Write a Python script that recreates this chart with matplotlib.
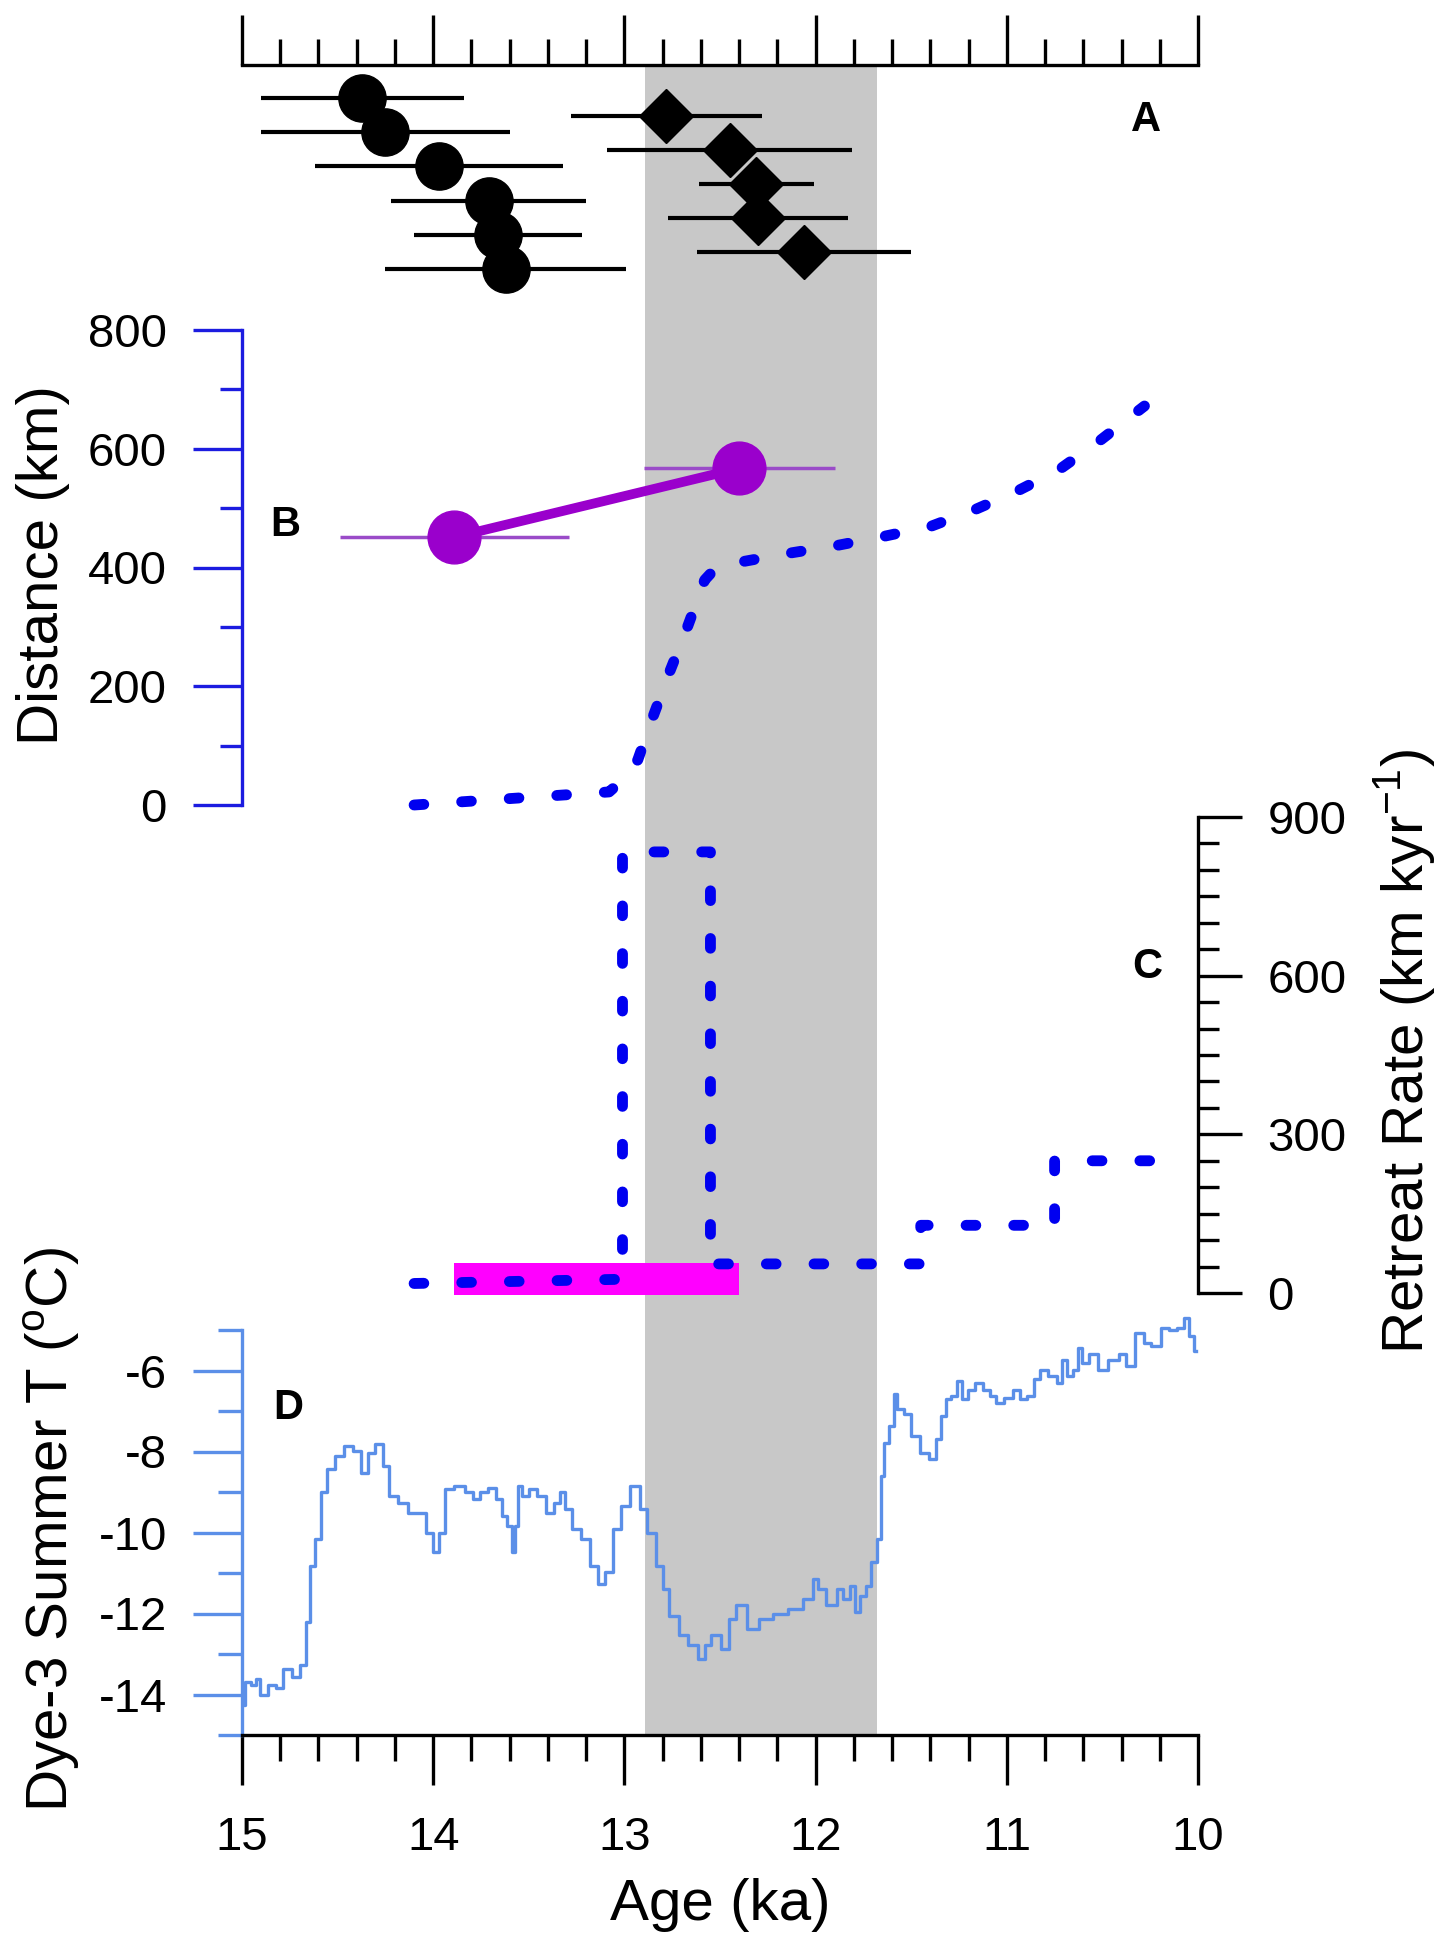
import numpy as np
import matplotlib.pyplot as plt
from matplotlib.ticker import MultipleLocator

plt.rcParams['font.family'] = ['Liberation Sans', 'DejaVu Sans']
plt.rcParams['axes.unicode_minus'] = False

# A: dated samples (age in ka, 1 sigma), stacked rows
circle_age = [14.37, 14.25, 13.97, 13.71, 13.66, 13.62]
circle_err = [0.53, 0.65, 0.65, 0.51, 0.44, 0.63]
circle_row = [0, 1, 2, 3, 4, 5]
diamond_age = [12.78, 12.45, 12.31, 12.30, 12.06]
diamond_err = [0.50, 0.64, 0.30, 0.47, 0.56]
diamond_row = [0.53, 1.53, 2.53, 3.52, 4.52]

# B: distance (km)
moraine_age = [13.89, 12.40]
moraine_err = [0.60, 0.50]
moraine_dist = [451, 567]
model_age = [14.10, 13.08, 13.00, 12.93, 12.85, 12.76, 12.67, 12.58, 12.52, 12.38,
             12.14, 11.89, 11.65, 11.40, 11.17, 10.95, 10.73, 10.52, 10.28]
model_dist = [0, 22, 45, 76, 149, 227, 300, 379, 400, 410,
              424, 437, 452, 469, 497, 528, 564, 612, 672]

# C: retreat rate (km/kyr)
rate_age = [14.10, 13.01, 13.01, 12.55, 12.55, 11.45, 11.45, 10.75, 10.75, 10.20]
rate_val = [18, 26, 834, 834, 55, 55, 128, 128, 250, 250]
obs_rate_age = [13.89, 12.40]
obs_rate_lo, obs_rate_hi = -4, 56

# D: Dye-3 summer temperature
dye3_age = [14.99, 14.98, 14.93, 14.92, 14.89, 14.84, 14.80, 14.77, 14.71, 14.68,
            14.65, 14.64, 14.60, 14.57, 14.54, 14.49, 14.44, 14.40, 14.35, 14.33,
            14.28, 14.25, 14.21, 14.16, 14.10, 14.06, 14.02, 13.98, 13.96, 13.92,
            13.86, 13.81, 13.77, 13.74, 13.69, 13.65, 13.63, 13.60, 13.58, 13.56,
            13.55, 13.52, 13.48, 13.43, 13.39, 13.35, 13.32, 13.30, 13.25, 13.20,
            13.16, 13.12, 13.08, 13.04, 13.00, 12.94, 12.90, 12.86, 12.81, 12.79,
            12.74, 12.69, 12.64, 12.59, 12.57, 12.52, 12.47, 12.44, 12.39, 12.33,
            12.26, 12.19, 12.10, 12.03, 12.00, 11.98, 11.91, 11.87, 11.84, 11.80,
            11.79, 11.75, 11.72, 11.70, 11.66, 11.655, 11.63, 11.60, 11.585, 11.56,
            11.52, 11.48, 11.43, 11.38, 11.36, 11.33, 11.31, 11.27, 11.25, 11.22,
            11.19, 11.14, 11.11, 11.07, 11.04, 10.99, 10.95, 10.91, 10.88, 10.84,
            10.81, 10.76, 10.72, 10.70, 10.67, 10.64, 10.62, 10.59, 10.55, 10.50,
            10.44, 10.39, 10.36, 10.30, 10.27, 10.22, 10.17, 10.13, 10.09, 10.06,
            10.03, 10.01]
dye3_temp = [-14.27, -13.69, -13.77, -13.61, -14.02, -13.77, -13.85, -13.36, -13.57, -13.28,
             -12.22, -10.82, -10.16, -9.01, -8.44, -8.11, -7.86, -7.99, -8.52, -8.03,
             -7.82, -8.36, -9.10, -9.26, -9.51, -9.51, -10.00, -10.49, -10.00, -8.93,
             -8.85, -9.01, -9.18, -9.01, -8.89, -9.18, -9.59, -9.83, -10.49, -9.83,
             -8.85, -9.10, -8.93, -9.10, -9.51, -9.26, -9.01, -9.42, -9.92, -10.16,
             -10.82, -11.27, -10.98, -9.92, -9.34, -8.85, -9.42, -10.00, -10.82, -11.39,
             -12.05, -12.54, -12.79, -13.12, -12.79, -12.54, -12.87, -12.13, -11.80, -12.38,
             -12.13, -12.01, -11.89, -11.64, -11.15, -11.39, -11.80, -11.39, -11.64, -11.31,
             -11.97, -11.56, -11.31, -10.74, -10.16, -8.60, -7.78, -7.37, -6.59, -6.96,
             -7.08, -7.62, -8.03, -8.19, -7.70, -7.12, -6.71, -6.63, -6.26, -6.71,
             -6.47, -6.30, -6.47, -6.63, -6.80, -6.67, -6.47, -6.71, -6.63, -6.22,
             -5.98, -6.14, -6.30, -5.73, -6.14, -5.98, -5.44, -5.81, -5.60, -5.98,
             -5.73, -5.60, -5.89, -5.07, -5.32, -5.40, -4.95, -4.99, -4.95, -4.70,
             -5.15, -5.52]

yd_start, yd_end = 12.89, 11.68

W_PX, H_PX = 1451, 1936
fig = plt.figure(figsize=(W_PX / 100, H_PX / 100), dpi=100)
X0, X1 = 242, 1198


def box(top, bottom):
    return [X0 / W_PX, 1 - bottom / H_PX, (X1 - X0) / W_PX, (bottom - top) / H_PX]


def clear(ax):
    ax.patch.set_alpha(0)
    for s in ax.spines.values():
        s.set_visible(False)
    ax.set_xlim(15, 10)


tick_fs = 34
lab_fs = 42
lw_ax = 2.4
dot_style = dict(color='#0000f0', lw=7.8, linestyle=(0, (0.9, 3.5)),
                 dash_capstyle='round', clip_on=False)

# background: Younger Dryas band + top age axis
bg = fig.add_axes(box(65, 1735))
clear(bg)
bg.axvspan(yd_start, yd_end, color='#c8c8c8', lw=0)
bg.spines['top'].set_visible(True)
bg.spines['top'].set_linewidth(lw_ax)
bg.set_yticks([])
bg.xaxis.set_ticks_position('top')
bg.xaxis.set_major_locator(MultipleLocator(1))
bg.xaxis.set_minor_locator(MultipleLocator(0.2))
bg.tick_params(axis='x', which='major', direction='out', length=36, width=lw_ax,
               labeltop=False, labelbottom=False)
bg.tick_params(axis='x', which='minor', direction='out', length=19, width=lw_ax)

# A
axA = fig.add_axes(box(65, 300))
clear(axA)
axA.set_xticks([])
axA.set_yticks([])
axA.set_ylim(5.91, -0.965)
axA.errorbar(circle_age, circle_row, xerr=circle_err, fmt='o', color='black',
             ms=34, elinewidth=3, capsize=0, clip_on=False)
axA.errorbar(diamond_age, diamond_row, xerr=diamond_err, fmt='D', color='black',
             ms=28, elinewidth=3, capsize=0, clip_on=False)

# B
blue_ax = '#1c1ce0'
axB = fig.add_axes(box(330, 805))
clear(axB)
axB.set_ylim(0, 800)
axB.set_xticks([])
axB.spines['left'].set_visible(True)
axB.spines['left'].set_color(blue_ax)
axB.spines['left'].set_linewidth(lw_ax)
axB.yaxis.set_major_locator(MultipleLocator(200))
axB.yaxis.set_minor_locator(MultipleLocator(100))
axB.tick_params(axis='y', which='major', direction='out', length=35, width=lw_ax,
                color=blue_ax, labelsize=tick_fs, pad=19)
axB.tick_params(axis='y', which='minor', direction='out', length=16, width=lw_ax,
                color=blue_ax)
axB.plot(model_age, model_dist, **dot_style)
axB.errorbar(moraine_age, moraine_dist, xerr=moraine_err, fmt='none',
             ecolor='#9a4bc8', elinewidth=2.5, capsize=0)
axB.plot(moraine_age, moraine_dist, color='#9a00cc', lw=7, marker='o', ms=38,
         solid_capstyle='round')

# C
axC = fig.add_axes(box(817, 1293))
clear(axC)
axC.set_ylim(0, 900)
axC.set_xticks([])
axC.spines['right'].set_visible(True)
axC.spines['right'].set_linewidth(lw_ax)
axC.yaxis.set_ticks_position('right')
axC.yaxis.set_major_locator(MultipleLocator(300))
axC.yaxis.set_minor_locator(MultipleLocator(50))
axC.tick_params(axis='y', which='major', direction='out', length=32, width=lw_ax,
                labelsize=tick_fs, pad=18)
axC.tick_params(axis='y', which='minor', direction='out', length=15, width=lw_ax)
axC.barh((obs_rate_lo + obs_rate_hi) / 2, obs_rate_age[1] - obs_rate_age[0],
         left=obs_rate_age[0], height=obs_rate_hi - obs_rate_lo,
         color='#ff00ff', zorder=1, clip_on=False)
axC.plot(rate_age, rate_val, zorder=3, **dot_style)

# D
lblue = '#5b8fe8'
axD = fig.add_axes(box(1330, 1735))
clear(axD)
axD.set_ylim(-15, -5)
axD.spines['left'].set_visible(True)
axD.spines['left'].set_color(lblue)
axD.spines['left'].set_linewidth(lw_ax)
axD.spines['bottom'].set_visible(True)
axD.spines['bottom'].set_linewidth(lw_ax)
axD.yaxis.set_minor_locator(MultipleLocator(1))
axD.set_yticks([-14, -12, -10, -8, -6])
axD.tick_params(axis='y', which='major', direction='out', length=35, width=lw_ax,
                color=lblue, labelsize=tick_fs, pad=19)
axD.tick_params(axis='y', which='minor', direction='out', length=17, width=lw_ax,
                color=lblue)
axD.xaxis.set_major_locator(MultipleLocator(1))
axD.xaxis.set_minor_locator(MultipleLocator(0.2))
axD.tick_params(axis='x', which='major', direction='out', length=36, width=lw_ax,
                labelsize=tick_fs, pad=22)
axD.tick_params(axis='x', which='minor', direction='out', length=19, width=lw_ax)
axD.plot(dye3_age, dye3_temp, color=lblue, lw=2.4, drawstyle='steps-mid',
         clip_on=False)

# panel letters and axis titles
for letter, (px, py) in zip('ABCD', [(1146, 120), (285, 525), (1147, 967), (288, 1408)]):
    fig.text(px / W_PX, 1 - py / H_PX, letter, fontsize=30, fontweight='bold',
             ha='center', va='center')

fig.text(43 / W_PX, 1 - 565 / H_PX, 'Distance (km)', rotation=90,
         fontsize=lab_fs, ha='center', va='center')
fig.text(1405 / W_PX, 1 - 1052 / H_PX,
         r'Retreat Rate (km kyr$^{\mathregular{-1}}$)', rotation=90,
         fontsize=lab_fs, ha='center', va='center')
fig.text(52 / W_PX, 1 - 1530 / H_PX,
         r'Dye-3 Summer T ($^{\mathregular{o}}$C)', rotation=90,
         fontsize=lab_fs, ha='center', va='center')
fig.text(720 / W_PX, 1 - 1905 / H_PX, 'Age (ka)', fontsize=lab_fs,
         ha='center', va='center')

fig.savefig('out.png', dpi=100)
